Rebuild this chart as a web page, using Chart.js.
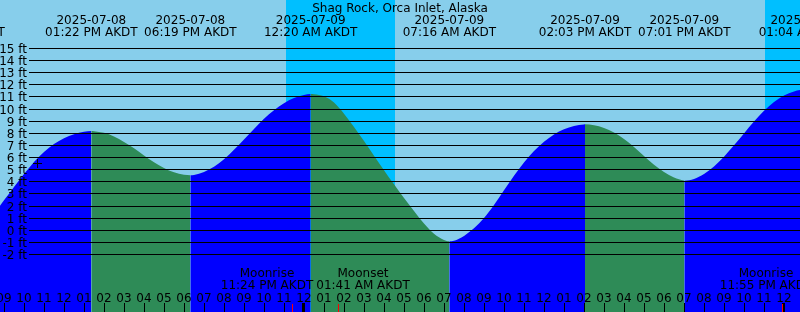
<!DOCTYPE html>
<html>
<head>
<meta charset="utf-8">
<script src="https://cdn.jsdelivr.net/npm/chart.js@4"></script>
<style>
html,body{margin:0;padding:0;background:#87CEEB;overflow:hidden}
#wrap{width:800px;height:312px}
</style>
</head>
<body>
<div id="wrap"><canvas id="c" width="800" height="312"></canvas></div>
<script>
// ---------- DATA ----------
const stationTitle = "Shag Rock, Orca Inlet, Alaska";

// Tide curve: hours since 2025-07-08 00:00 AKDT, and water level in feet
const tideHours = [6.7, 7, 7.5, 8, 8.5, 9, 9.5, 10, 10.5, 11, 11.5, 12, 12.5, 13, 13.367,
  13.5, 14, 14.5, 15, 15.5, 16, 16.5, 17, 17.5, 18, 18.317,
  18.5, 19, 19.5, 20, 20.5, 21, 21.5, 22, 22.5, 23, 23.5, 24, 24.333,
  24.5, 25, 25.5, 26, 26.5, 27, 27.5, 28, 28.5, 29, 29.5, 30, 30.5, 31, 31.267,
  31.5, 32, 32.5, 33, 33.5, 34, 34.5, 35, 35.5, 36, 36.5, 37, 37.5, 38, 38.05,
  38.5, 39, 39.5, 40, 40.5, 41, 41.5, 42, 42.5, 43, 43.017,
  43.5, 44, 44.5, 45, 45.5, 46, 46.5, 47, 47.5, 48, 48.5, 49, 49.067];
const tideHeights = [-0.3, -0.25, -0.05, 0.5, 1.37, 2.43, 3.53, 4.6, 5.6, 6.43, 7.08, 7.56, 7.89, 8.09, 8.15,
  8.14, 8.0, 7.7, 7.25, 6.72, 6.14, 5.58, 5.1, 4.74, 4.54, 4.5,
  4.52, 4.78, 5.2, 5.82, 6.6, 7.46, 8.32, 9.17, 9.87, 10.45, 10.88, 11.13, 11.2,
  11.19, 11.02, 10.5, 9.58, 8.48, 7.32, 6.12, 4.92, 3.75, 2.62, 1.55, 0.52, -0.33, -0.83, -0.95,
  -0.9, -0.5, 0.12, 0.97, 2.05, 3.27, 4.47, 5.56, 6.5, 7.27, 7.87, 8.3, 8.57, 8.69, 8.7,
  8.62, 8.4, 8.02, 7.5, 6.84, 6.09, 5.37, 4.77, 4.32, 4.06, 4.05,
  4.19, 4.6, 5.23, 6.03, 6.97, 7.95, 8.93, 9.82, 10.55, 11.08, 11.42, 11.58, 11.6];

// High / low tide events
const extremeHours = [6.7, 13.367, 18.317, 24.333, 31.267, 38.05, 43.017, 49.067];
const extremeDates = ["2025-07-08", "2025-07-08", "2025-07-08", "2025-07-09", "2025-07-09", "2025-07-09", "2025-07-09", "2025-07-10"];
const extremeTimes = ["06:42 AM AKDT", "01:22 PM AKDT", "06:19 PM AKDT", "12:20 AM AKDT", "07:16 AM AKDT", "02:03 PM AKDT", "07:01 PM AKDT", "01:04 AM AKDT"];

// Night periods (sunset -> sunrise), hours
const nightStartHours = [23.1, 47.05];
const nightEndHours = [28.55, 52.6];

// Moon events
const moonHours = [23.4, 25.683, 47.917];
const moonNames = ["Moonrise", "Moonset", "Moonrise"];
const moonTimes = ["11:24 PM AKDT", "01:41 AM AKDT", "11:55 PM AKDT"];

// Depth tick lines (ft)
const depthTicks = [-2, -1, 0, 1, 2, 3, 4, 5, 6, 7, 8, 9, 10, 11, 12, 13, 14, 15];

// Hour ticks and labels
const hourTicks = [9, 10, 11, 12, 13, 14, 15, 16, 17, 18, 19, 20, 21, 22, 23, 24,
  25, 26, 27, 28, 29, 30, 31, 32, 33, 34, 35, 36, 37, 38, 39, 40, 41, 42, 43, 44, 45, 46, 47, 48];
const hourTickLabels = ["09", "10", "11", "12", "01", "02", "03", "04", "05", "06", "07", "08", "09", "10", "11", "12",
  "01", "02", "03", "04", "05", "06", "07", "08", "09", "10", "11", "12", "01", "02", "03", "04", "05", "06", "07", "08", "09", "10", "11", "12"];

// Mark
const markHour = 10.65;
const markHeight = 5.5;

// ---------- STYLE / LAYOUT ----------
const VIEW = { xMin: 8.8, xMax: 48.8, yMin: -6.78, yMax: 18.96 };
const COLORS = { day: "#87CEEB", night: "#00BFFF", rising: "#0000FF", falling: "#2E8B57", ink: "#000000", moon: "#FF0000" };
const FONT = '12px "DejaVu Sans"';
const moonLabelShift = [-25, 25, -16];

const tidePlugin = {
  id: "tideDecor",
  beforeDraw(chart) {
    const { ctx, chartArea: a, scales: { x } } = chart;
    ctx.save();
    ctx.fillStyle = COLORS.day;
    ctx.fillRect(0, 0, chart.width, chart.height);
    ctx.fillStyle = COLORS.night;
    nightStartHours.forEach((s, i) => {
      const x0 = Math.round(x.getPixelForValue(s));
      const x1 = Math.round(x.getPixelForValue(nightEndHours[i]));
      ctx.fillRect(x0, a.top, x1 - x0, a.bottom - a.top);
    });
    ctx.restore();
  },
  afterDraw(chart) {
    const { ctx, scales: { x, y } } = chart;
    const W = chart.width;
    ctx.save();
    ctx.fillStyle = COLORS.ink;
    depthTicks.forEach(v => {
      const py = Math.round(y.getPixelForValue(v));
      ctx.fillRect(29, py, W - 29, 1);
    });
    ctx.font = FONT;
    ctx.textBaseline = "alphabetic";
    ctx.textAlign = "right";
    depthTicks.forEach(v => {
      const py = Math.round(y.getPixelForValue(v));
      ctx.fillText(v + " ft", 27, py + 5);
    });
    ctx.textAlign = "center";
    ctx.fillText(stationTitle, W / 2, 12);
    extremeHours.forEach((h, i) => {
      const cx = x.getPixelForValue(h);
      ctx.fillText(extremeDates[i], cx, 24);
      ctx.fillText(extremeTimes[i], cx, 36);
    });
    hourTicks.forEach((h, i) => {
      const px = Math.round(x.getPixelForValue(h));
      ctx.fillText(hourTickLabels[i], px, 302);
      if (h % 24 === 0) ctx.fillRect(px - 2, 303, 3, 9);
      else ctx.fillRect(px, 303, 1, 9);
    });
    moonHours.forEach((h, i) => {
      const px = Math.round(x.getPixelForValue(h));
      const cx = px + moonLabelShift[i];
      ctx.fillStyle = COLORS.ink;
      ctx.fillText(moonNames[i], cx, 277);
      ctx.fillText(moonTimes[i], cx, 289);
      ctx.fillStyle = COLORS.moon;
      ctx.fillRect(px, 304, 1, 8);
    });
    ctx.fillStyle = COLORS.ink;
    const mx = Math.round(x.getPixelForValue(markHour));
    const my = Math.round(y.getPixelForValue(markHeight));
    ctx.fillRect(mx - 4, my, 9, 1);
    ctx.fillRect(mx, my - 4, 1, 9);
    ctx.restore();
  }
};

const points = tideHours.map((h, i) => ({ x: h, y: tideHeights[i] }));

new Chart(document.getElementById("c").getContext("2d"), {
  type: "line",
  data: {
    datasets: [{
      data: points,
      fill: "start",
      borderWidth: 0,
      borderColor: "rgba(0,0,0,0)",
      backgroundColor: COLORS.rising,
      pointRadius: 0,
      pointHoverRadius: 0,
      cubicInterpolationMode: "monotone",
      segment: {
        backgroundColor: c => tideHeights[c.p1DataIndex] > tideHeights[c.p0DataIndex] ? COLORS.rising : COLORS.falling
      }
    }]
  },
  options: {
    responsive: false,
    animation: false,
    events: [],
    devicePixelRatio: 1,
    layout: { padding: 0 },
    plugins: { legend: { display: false }, tooltip: { enabled: false }, title: { display: false } },
    scales: {
      x: { type: "linear", min: VIEW.xMin, max: VIEW.xMax, display: false },
      y: { type: "linear", min: VIEW.yMin, max: VIEW.yMax, display: false }
    }
  },
  plugins: [tidePlugin]
});
</script>
</body>
</html>
